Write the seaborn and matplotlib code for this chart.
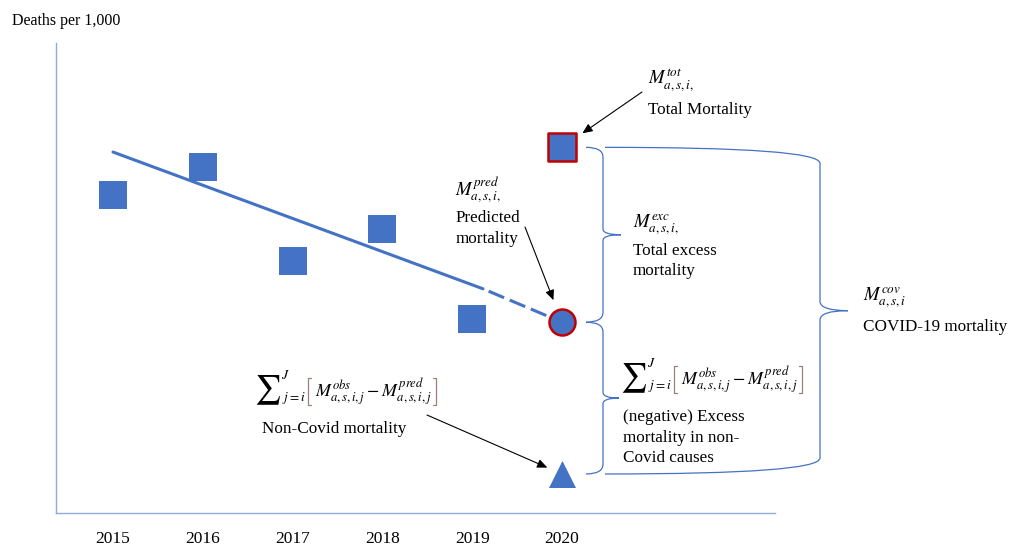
import matplotlib
matplotlib.use("Agg")
import matplotlib.pyplot as plt
import pandas as pd
import seaborn as sns
from matplotlib.path import Path
from matplotlib.patches import PathPatch
from matplotlib.lines import Line2D

years = [2015, 2016, 2017, 2018, 2019]
observed = [6.76, 7.37, 5.37, 6.05, 4.13]

# 2020 values
year_2020 = 2020
total_2020 = 7.78
predicted_2020 = 4.06
noncovid_2020 = 0.83

# hand drawn trend line (solid part), dashed up to the prediction
trend_years = [2015, 2019.12]
trend_vals = [7.68, 4.77]

tick_years = [2015, 2016, 2017, 2018, 2019, 2020]
tick_labels = ["2015", "2016", "2017", "2018", "2019", "2020"]

BLUE = "#4472C4"
RED = "#C00000"
AXIS = "#8FAADC"
BRACKET = "#9C7F7F"

sns.set_theme(style="white")
plt.rcParams["font.family"] = ["Liberation Serif", "DejaVu Serif"]
plt.rcParams["mathtext.fontset"] = "stix"

W, H = 1014, 546
fig = plt.figure(figsize=(W / 100, H / 100), dpi=100)
ax = fig.add_axes([56 / W, 1 - 513 / H, (775 - 56) / W, (513 - 43) / H])

PX_PER_YEAR = 89.8


def dx(px):
    return px / PX_PER_YEAR


def fpos(x, y):
    return (x / W, 1 - y / H)


def ftext(x, y, s, size=12.3, va="baseline", ha="left", **kw):
    return fig.text(*fpos(x, y), s, fontsize=size, va=va, ha=ha, color="black", **kw)


def fline(xs, ys, **kw):
    fig.add_artist(Line2D([x / W for x in xs], [1 - y / H for y in ys],
                          transform=fig.transFigure, **kw))


def brace(x_arm, x_v, x_tip, y_top, y_bot, r, rt):
    y_mid = (y_top + y_bot) / 2
    verts = [(x_arm, y_top), (x_v, y_top), (x_v, y_top - r),
             (x_v, y_mid + rt), (x_v, y_mid), (x_tip, y_mid),
             (x_v, y_mid), (x_v, y_mid - rt),
             (x_v, y_bot + r), (x_v, y_bot), (x_arm, y_bot)]
    codes = [Path.MOVETO, Path.CURVE3, Path.CURVE3,
             Path.LINETO, Path.CURVE3, Path.CURVE3,
             Path.CURVE3, Path.CURVE3,
             Path.LINETO, Path.CURVE3, Path.CURVE3]
    ax.add_patch(PathPatch(Path(verts, codes), fill=False, edgecolor=BLUE,
                           lw=0.9, clip_on=False))


def arrow(xy, start_px, shrink):
    ax.annotate("", xy=xy, xycoords="data", xytext=fpos(*start_px),
                textcoords="figure fraction",
                arrowprops=dict(arrowstyle="-|>,head_length=0.5,head_width=0.22",
                                color="black", lw=0.8, shrinkA=0, shrinkB=shrink,
                                mutation_scale=12))


def bracket(x, ytop, ybot, d):
    fline([x + 3 * d, x, x, x + 3 * d], [ytop, ytop, ybot, ybot], color=BRACKET, lw=0.9)


def sum_block(x0, y0):
    # x0: left edge of the sum sign, y0: baseline of the M terms
    ftext(x0 + 10.5, y0 - 7, r"$\sum$", size=21, va="center", ha="center")
    ftext(x0 + 24, y0 - 18, r"$J$", size=10)
    ftext(x0 + 25, y0 + 4, r"$j=i$", size=9.5)
    t = ftext(x0 + 58, y0, r"$M^{obs}_{a,s,i,j} - M^{pred}_{a,s,i,j}$", size=13)
    bracket(x0 + 51, y0 - 19, y0 + 8, 1)
    bb = t.get_window_extent(renderer=fig.canvas.get_renderer())
    bracket(bb.x1 + 4, y0 - 19, y0 + 8, -1)


# trend + projection
sns.lineplot(x=trend_years, y=trend_vals, color=BLUE, lw=2.2, ax=ax)
sns.lineplot(x=[trend_years[-1], year_2020], y=[trend_vals[-1], predicted_2020],
             color=BLUE, lw=2.2, linestyle=(5.5, (5.5, 2)), ax=ax)

df = pd.DataFrame({"year": years, "deaths": observed})
sns.scatterplot(data=df, x="year", y="deaths", marker="s", s=408, color=BLUE,
                linewidth=0, ax=ax, zorder=3)
sns.scatterplot(x=[year_2020], y=[total_2020], marker="s", s=392, color=BLUE,
                edgecolor=RED, linewidth=1.8, ax=ax, zorder=4)
sns.scatterplot(x=[year_2020], y=[predicted_2020], marker="o", s=350, color=BLUE,
                edgecolor=RED, linewidth=1.8, ax=ax, zorder=4)
sns.scatterplot(x=[year_2020], y=[noncovid_2020], marker="^", s=378, color=BLUE,
                linewidth=0, ax=ax, zorder=4)

ax.set_xlim(2015 - dx(57), 2020 + dx(213))
ax.set_ylim(0, 10)
ax.set_xticks(tick_years, tick_labels)
ax.set_yticks([])
ax.tick_params(axis="x", length=0, pad=13, labelsize=12.5, colors="black")
ax.set_xlabel("")
ax.set_ylabel("")
sns.despine(ax=ax)
for side in ["left", "bottom"]:
    ax.spines[side].set_color(AXIS)
    ax.spines[side].set_linewidth(1.0)

# braces
brace(2020 + dx(24), 2020 + dx(41), 2020 + dx(59), total_2020, predicted_2020, 0.21, 0.12)
brace(2020 + dx(24), 2020 + dx(41), 2020 + dx(57), predicted_2020, noncovid_2020, 0.21, 0.12)
brace(2020 + dx(43), 2020 + dx(258), 2020 + dx(286), total_2020, noncovid_2020, 0.34, 0.2)

# arrows
arrow((year_2020, total_2020), (642, 92), 17.8)
arrow((year_2020, predicted_2020), (525, 227), 17)
arrow((year_2020, noncovid_2020), (427, 415), 11.5)

# texts
ftext(12, 25, "Deaths per 1,000", size=11.5)
ftext(648, 84, r"$M^{tot}_{a,s,i,}$", size=13.5)
ftext(648, 114, "Total Mortality")
ftext(455, 196, r"$M^{pred}_{a,s,i,}$", size=13.5)
ftext(456, 222, "Predicted")
ftext(456, 243, "mortality")
ftext(633, 228, r"$M^{exc}_{a,s,i,}$", size=13.5)
ftext(633, 255, "Total excess")
ftext(633, 275, "mortality")
ftext(863, 301, r"$M^{cov}_{a,s,i}$", size=13.5)
ftext(863, 331, "COVID-19 mortality")
ftext(262, 433, "Non-Covid mortality")
ftext(623, 421, "(negative) Excess")
ftext(623, 442, "mortality in non-")
ftext(623, 462, "Covid causes")

sum_block(257, 397)
sum_block(623, 385)

fig.savefig("out.png", dpi=100)
